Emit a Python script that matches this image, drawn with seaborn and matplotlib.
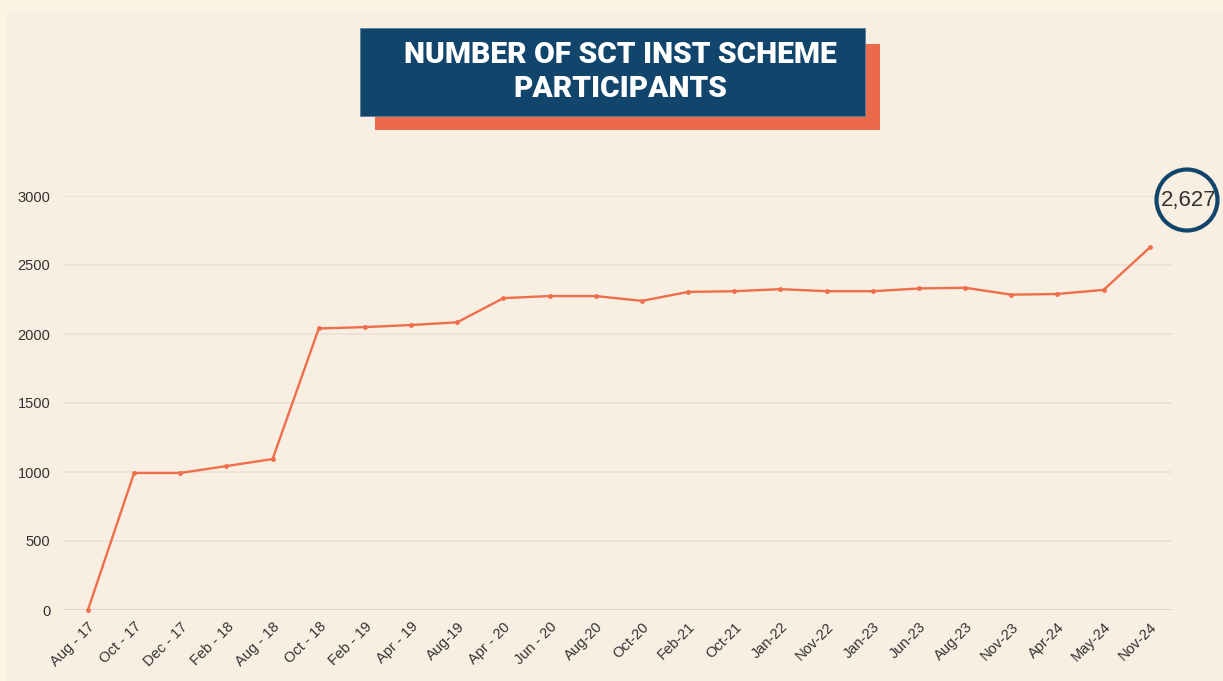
import matplotlib
matplotlib.use("Agg")
import matplotlib.pyplot as plt
from matplotlib.patches import Rectangle, Ellipse
import pandas as pd
import seaborn as sns

# Chart data
months = ["Aug - 17", "Oct - 17", "Dec - 17", "Feb - 18", "Aug - 18", "Oct - 18",
          "Feb - 19", "Apr - 19", "Aug-19", "Apr - 20", "Jun - 20", "Aug-20",
          "Oct-20", "Feb-21", "Oct-21", "Jan-22", "Nov-22", "Jan-23",
          "Jun-23", "Aug-23", "Nov-23", "Apr-24", "May-24", "Nov-24"]
participants = [0, 993, 993, 1043, 1094, 2040, 2050, 2065, 2085, 2260, 2275, 2275,
                2240, 2305, 2310, 2325, 2310, 2310, 2330, 2335, 2285, 2290, 2320, 2627]
y_ticks = [0, 500, 1000, 1500, 2000, 2500, 3000]
title = "NUMBER OF SCT INST SCHEME\nPARTICIPANTS"

df = pd.DataFrame({"idx": range(len(months)), "month": months,
                   "participants": participants})

sns.set_style("white")
plt.rcParams["font.family"] = ["Liberation Sans", "DejaVu Sans"]

fig = plt.figure(figsize=(12.23, 6.81), dpi=100)
fig.patch.set_facecolor("#FDF3E2")

# Inner panel (behind everything)
fig.patches.append(Rectangle((6 / 1223, 0), 1 - 6 / 1223, 1 - 12 / 681,
                             transform=fig.transFigure, facecolor="#F8EEE1",
                             edgecolor="none", zorder=-5))

ax = fig.add_axes([63 / 1223, 1 - 610 / 681, (1172 - 63) / 1223, (610 - 196) / 681])
ax.set_facecolor("none")

for t in y_ticks[1:]:
    ax.axhline(t, color="#EEDFD5", lw=1.2, zorder=0)
ax.axhline(0, color="#E4D3CB", lw=2, zorder=0)

sns.lineplot(data=df, x="idx", y="participants", ax=ax, color="#EF6E4C",
             lw=1.7, marker="o", markersize=3.5, markeredgewidth=0, clip_on=False)

ax.set_xlim(-0.54, 23.48)
ax.set_ylim(0, 3000)
ax.set_yticks(y_ticks)
ax.set_xticks(df["idx"])
ax.set_xticklabels(months, rotation=45, ha="right", rotation_mode="anchor")
ax.tick_params(axis="both", length=0, colors="#333333")
ax.tick_params(axis="x", pad=7, labelsize=10.5)
ax.tick_params(axis="y", pad=9, labelsize=10.5)
ax.set_xlabel("")
ax.set_ylabel("")
sns.despine(ax=ax, left=True, bottom=True)

# Title box with offset shadow
fig.patches.append(Rectangle((375 / 1223, 1 - 130 / 681), 505 / 1223, 86 / 681,
                             transform=fig.transFigure, facecolor="#EB6A4B",
                             edgecolor="none", zorder=1))
fig.patches.append(Rectangle((360 / 1223, 1 - 116 / 681), 505 / 1223, 88 / 681,
                             transform=fig.transFigure, facecolor="#11456B",
                             edgecolor="#5A7F9A", lw=0.6, zorder=2))
fig.text(620 / 1223, 1 - 72 / 681, title, ha="center", va="center",
         color="white", fontsize=21.5, fontweight="heavy", family="Roboto",
         linespacing=1.3, zorder=3)

# Highlight of the latest value
fig.patches.append(Ellipse((1187 / 1223, 1 - 200 / 681), 61 / 1223, 61 / 681,
                           transform=fig.transFigure, facecolor="none",
                           edgecolor="#11456B", lw=3, zorder=3))
fig.text(1189 / 1223, 1 - 200 / 681, f"{participants[-1]:,}", ha="center",
         va="center", fontsize=16, color="#333333", zorder=4)

fig.savefig("out.png", dpi=100, facecolor=fig.get_facecolor())
